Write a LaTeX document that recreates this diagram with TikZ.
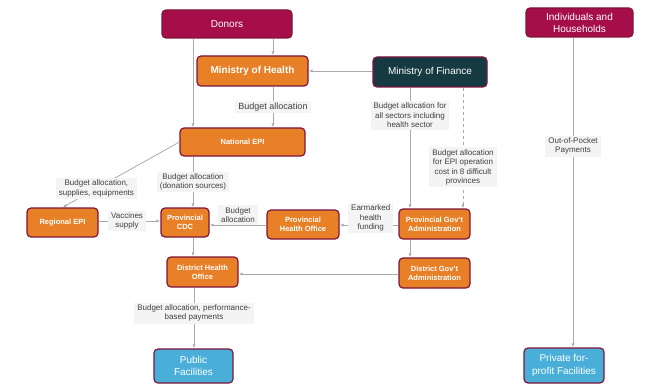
\documentclass[tikz,border=0pt]{standalone}
\usepackage{fontspec}
\setmainfont{Liberation Sans}
\usetikzlibrary{
  arrows.meta,
  calc,
  positioning,
}
\definecolor{donorred}{RGB}{166, 14, 74}
\definecolor{healthorange}{RGB}{231, 128, 38}
\definecolor{financeteal}{RGB}{22, 58, 66}
\definecolor{facilityblue}{RGB}{74, 175, 216}
\definecolor{rim}{RGB}{128, 20, 58}
\definecolor{flowgrey}{RGB}{170, 170, 170}
\definecolor{notegrey}{RGB}{244, 244, 244}
\definecolor{notetext}{RGB}{64, 64, 64}
\tikzstyle{arrow} = [
  -{Latex[length=4pt,width=3pt]},
  line width=0.8pt,
  flowgrey,
]
\tikzstyle{note} = [
  fill=notegrey,
  text=notetext,
  font=\fontsize{8}{9.5}\selectfont,
  inner xsep=3pt,
  inner ysep=2pt,
  align=center,
]

\begin{document}
\begin{tikzpicture}[x=1pt, y=1pt,
                    box/.style={draw=rim, line width=1.2pt, rounded corners=4pt,
                                align=center, text=white, inner sep=1pt},
                    source/.style={box, fill=donorred, font=\fontsize{10}{12}\selectfont},
                    agency/.style={box, fill=healthorange, font=\bfseries\fontsize{7.5}{9}\selectfont},
                    facility/.style={box, fill=facilityblue, font=\fontsize{10}{12.5}\selectfont}]
    \useasboundingbox (0,0) rectangle (645,-385);
    \node [source, minimum width=130pt, minimum height=28pt] (donors) at (227,-24) {Donors};
    \node [source, minimum width=107pt, minimum height=29pt] (homes) at (579.5,-22.5)
          {Individuals and\\Households};
    \node [box, fill=healthorange, font=\bfseries\fontsize{10}{12}\selectfont,
           minimum width=111pt, minimum height=30pt] (moh) at (252.5,-71) {Ministry of Health};
    \node [box, fill=financeteal, font=\fontsize{10}{12}\selectfont,
           minimum width=114pt, minimum height=30pt] (mof) at (430,-72) {Ministry of Finance};
    \node [agency, minimum width=125pt, minimum height=28pt] (natepi) at (242.5,-142) {National EPI};
    \node [agency, minimum width=71pt, minimum height=29pt] (regepi) at (62.5,-222.5) {Regional EPI};
    \node [agency, minimum width=48pt, minimum height=29pt] (cdc) at (185,-222.5) {Provincial\\CDC};
    \node [agency, minimum width=72pt, minimum height=29pt] (pho) at (303,-224.5)
          {Provincial\\Health Office};
    \node [agency, minimum width=71pt, minimum height=30pt] (pga) at (434.5,-224)
          {Provincial Gov't\\Administration};
    \node [agency, minimum width=71pt, minimum height=30pt] (dho) at (202.5,-272)
          {District Health\\Office};
    \node [agency, minimum width=71pt, minimum height=30pt] (dga) at (434.5,-273)
          {District Gov't\\Administration};
    \node [facility, minimum width=79pt, minimum height=34pt] (public) at (193.5,-366)
          {Public\\Facilities};
    \node [facility, minimum width=80pt, minimum height=35pt] (private) at (564,-365.5)
          {Private for-\\profit Facilities};

    \draw [arrow] (donors.south -| 273,0) -- (moh.north -| 273,0);
    \draw [arrow] (donors.south -| 193,0) -- (natepi.north -| 193,0);
    \draw [arrow] (mof.west |- 0,-71) -- (moh.east |- 0,-71);
    \draw [arrow] (moh.south -| 273,0) -- node [note, font=\fontsize{9}{11}\selectfont]
          {Budget allocation} (natepi.north -| 273,0);
    \draw [arrow] (mof.south -| 410,0) -- node [note, pos=0.23]
          {Budget allocation for\\all sectors including\\health sector} (pga.north -| 410,0);
    \draw [arrow, dashed] (mof.south -| 463,0) -- node [note, pos=0.66]
          {Budget allocation\\for EPI operation\\cost in 8 difficult\\provinces} (pga.north -| 463,0);
    \draw [arrow] (natepi.west) -- node [note, pos=0.71]
          {Budget allocation,\\supplies, equipments} (regepi.north);
    \draw [arrow] (natepi.south -| 193,0) -- node [note]
          {Budget allocation\\(donation sources)} (cdc.north -| 193,0);
    \draw [arrow] (regepi.east |- 0,-221) -- node [note, pos=0.46]
          {Vaccines\\supply} (cdc.west |- 0,-221);
    \draw [arrow] (pho.west |- 0,-225) -- node [note, above]
          {Budget\\allocation} (cdc.east |- 0,-225);
    \draw [arrow] (pga.west |- 0,-225) -- node [note, pos=0.47, yshift=7pt]
          {Earmarked\\health\\funding} (pho.east |- 0,-225);
    \draw [arrow] (pga.south -| 410,0) -- (dga.north -| 410,0);
    \draw [arrow] (dga.west |- 0,-274) -- (dho.east |- 0,-274);
    \draw [arrow] (cdc.south -| 193,0) -- (dho.north -| 193,0);
    \draw [arrow] (dho.south -| 194,0) -- node [note, pos=0.42]
          {Budget allocation, performance-\\based payments} (public.north -| 194,0);
    \draw [arrow] (homes.south -| 573,0) -- node [note, pos=0.35]
          {Out-of-Pocket\\Payments} (private.north -| 573,0);
\end{tikzpicture}
\end{document}
